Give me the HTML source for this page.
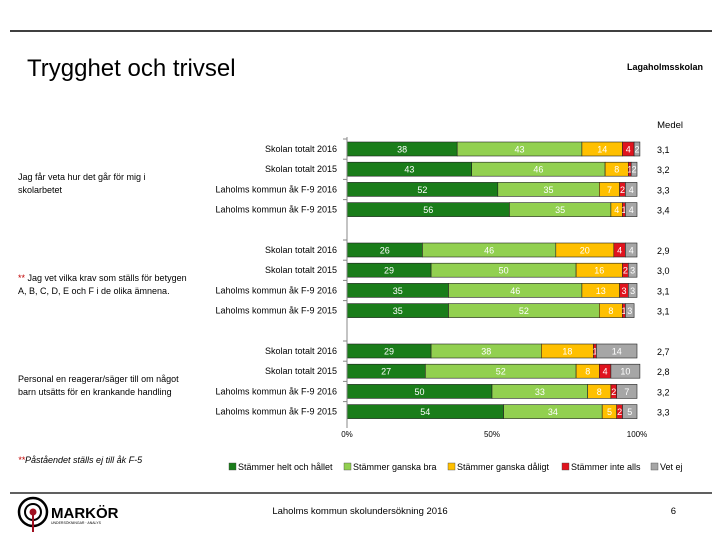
<!DOCTYPE html>
<html><head><meta charset="utf-8"><style>
html,body{margin:0;padding:0;background:#fff;}
svg{display:block;font-family:"Liberation Sans",sans-serif;}
</style></head><body>
<svg id="chart" width="720" height="540" viewBox="0 0 720 540">
<line x1="10" y1="31" x2="712" y2="31" stroke="#000" stroke-width="1.5"/>
<text x="27" y="76" font-size="24">Trygghet och trivsel</text>
<text x="703" y="70" font-size="9" font-weight="bold" text-anchor="end">Lagaholmsskolan</text>
<text x="683" y="128" font-size="9.5" text-anchor="end">Medel</text>
<g id="bars"></g>
<text x="18" y="463" font-size="9" font-style="italic"><tspan fill="#c00000">**</tspan>Påståendet ställs ej till åk F-5</text>
<g id="legend"></g>
<line x1="10" y1="493" x2="712" y2="493" stroke="#000" stroke-width="1.2"/>
<g>
<circle cx="33" cy="512" r="14" fill="none" stroke="#000" stroke-width="2.5"/>
<circle cx="33" cy="512" r="8" fill="none" stroke="#000" stroke-width="2"/>
<circle cx="33" cy="512" r="3.5" fill="#a01020"/>
<line x1="33" y1="515" x2="33" y2="532" stroke="#a01020" stroke-width="2"/>
<text x="51" y="518" font-size="15" font-weight="bold">MARKÖR</text>
<text x="51" y="524" font-size="3.5">UNDERSÖKNINGAR · ANALYS</text>
</g>
<text x="360" y="514" font-size="9.5" text-anchor="middle">Laholms kommun skolundersökning 2016</text>
<text x="676" y="514" font-size="9.5" text-anchor="end">6</text>
</svg>
<script>
const questions = ["Jag får veta hur det går för mig i|skolarbetet","** Jag vet vilka krav som ställs för betygen|A, B, C, D, E och F i de olika ämnena.","Personal en reagerar/säger till om något|barn utsätts för en krankande handling"];
const rowLabels = ["Skolan totalt 2016","Skolan totalt 2015","Laholms kommun åk F-9 2016","Laholms kommun åk F-9 2015"];
const helt = [38,43,52,56, 26,29,35,35, 29,27,50,54];
const bra = [43,46,35,35, 46,50,46,52, 38,52,33,34];
const daligt = [14,8,7,4, 20,16,13,8, 18,8,8,5];
const inte = [4,1,2,1, 4,2,3,1, 1,4,2,2];
const vetej = [2,2,4,4, 4,3,3,3, 14,10,7,5];
const medel = ["3,1","3,2","3,3","3,4","2,9","3,0","3,1","3,1","2,7","2,8","3,2","3,3"];
const seriesNames = ["Stämmer helt och hållet","Stämmer ganska bra","Stämmer ganska dåligt","Stämmer inte alls","Vet ej"];
const xTicks = [0,50,100];
const colors = ["#1a7d1a","#92d050","#ffc000","#e0141e","#a6a6a6"];
const NS="http://www.w3.org/2000/svg";
const x0=347, xw=290;
const xs = v => x0 + v/100*xw;
const rowY = i => 142 + Math.floor(i/4)*101 + (i%4)*20.2;
const barH = 14;
const g = document.getElementById('bars');
function mk(tag, attrs, parent){const e=document.createElementNS(NS,tag);for(const k in attrs)e.setAttribute(k,attrs[k]);(parent||g).appendChild(e);return e;}
const series=[helt,bra,daligt,inte,vetej];
for(let i=0;i<helt.length;i++){
  const y=rowY(i);
  let acc=0;
  for(let s=0;s<5;s++){
    const v=series[s][i];
    const r=mk('rect',{x:xs(acc),y:y,width:xs(acc+v)-xs(acc),height:barH,fill:colors[s],stroke:'#222','stroke-width':0.6});
    
    
    const t=mk('text',{x:(xs(acc)+xs(acc+v))/2,y:y+10.5,'font-size':9,'text-anchor':'middle',fill:'#fff'});
    t.textContent=v;
    
    
    acc+=v;
  }
  const l=mk('text',{x:337,y:y+10,'font-size':9,'text-anchor':'end'});
  l.textContent=rowLabels[i%4];
  
  
  const m=mk('text',{x:657,y:y+11,'font-size':9});
  m.textContent=medel[i];
  
  
  mk('line',{x1:343,x2:347,y1:y-3,y2:y-3,stroke:'#888'});
}
const ax=mk('line',{x1:x0,x2:x0,y1:137,y2:428,stroke:'#888'});


xTicks.forEach(v=>{
  const t=mk('text',{x:xs(v),y:437,'font-size':8,'text-anchor':'middle'});
  t.textContent=v+'%';
  
  
});
questions.forEach((q,k)=>{
  const parts=q.split('|');
  parts.forEach((p,j)=>{
    const t=mk('text',{x:18,y:180+k*101+j*13,'font-size':9});
    if(p.startsWith('**')){const s=mk('tspan',{fill:'#c00000'},t);s.textContent='** ';const s2=mk('tspan',{},t);s2.textContent=p.slice(3);}
    else t.textContent=p;
    
    
  });
});
const lg=document.getElementById('legend');
const lx=[229,344,448,562,651];
seriesNames.forEach((n,s)=>{
  const r=mk('rect',{x:lx[s],y:463,width:7,height:7,fill:colors[s],stroke:'#444','stroke-width':0.4},lg);
  
  
  const t=mk('text',{x:lx[s]+9,y:470,'font-size':9},lg);
  t.textContent=n;
  
  
});
</script>
</body></html>
